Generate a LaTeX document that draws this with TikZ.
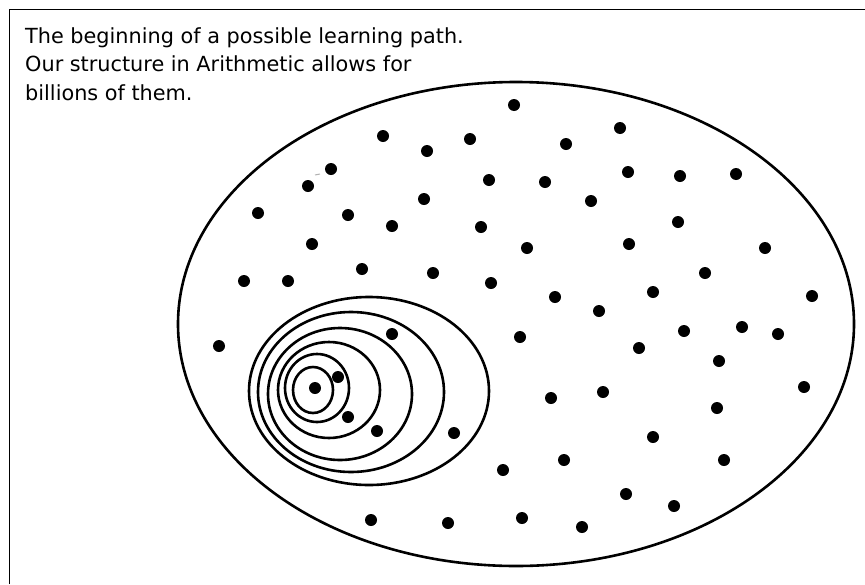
\documentclass[tikz,border=0pt]{standalone}
\usepackage{fontspec}
\setmainfont{DejaVu Sans}
\usetikzlibrary{positioning}

\begin{document}
\begin{tikzpicture}[
    x=1pt, y=-1pt,
    frameline/.style={line width=1.5pt, black},
    ring/.style={line width=2.6pt, black},
    dot/.style={fill=black},
    caption/.style={font=\fontsize{20.8}{28.5}\selectfont, align=left, inner sep=0pt, anchor=north west},
]
\useasboundingbox (0,0) rectangle (865,584);
\draw[frameline] (9.5,584) -- (9.5,9.5) -- (865,9.5);

\node[caption] (txt) at (25,27) {The beginning of a possible learning path.\\Our structure in Arithmetic allows for\\billions of them.};

% the whole field
\draw[ring] (516,324) ellipse [x radius=338, y radius=242];

% nested path
\draw[ring] (369,391) ellipse [x radius=120, y radius=94];
\draw[ring] (351,392) ellipse [x radius=93, y radius=80];
\draw[ring] (340,394) ellipse [x radius=72, y radius=66];
\draw[ring] (329,390) ellipse [x radius=51, y radius=48];
\draw[ring] (317,388) ellipse [x radius=32, y radius=34];
\draw[ring] (313,390) ellipse [x radius=20, y radius=23];

% topics
\foreach \px/\py in {514/105, 383/136, 427/151, 470/139, 566/144, 620/128, 331/169, 308/186,
    489/180, 545/182, 628/172, 680/176, 736/174, 258/213, 348/215, 392/226, 424/199, 481/227,
    591/201, 678/222, 312/244, 527/248, 629/244, 765/248, 244/281, 288/281, 362/269, 433/273,
    491/283, 555/297, 599/311, 653/292, 705/273, 812/296, 219/346, 392/334, 520/337, 639/348,
    684/331, 742/327, 778/334, 719/361, 338/377, 315/388, 348/417, 377/431, 454/433, 551/398,
    603/392, 804/387, 717/408, 653/437, 503/470, 564/460, 724/460, 626/494, 674/506, 371/520,
    448/523, 522/518, 582/527}
  \fill[dot] (\px,\py) circle [radius=6];

\draw[gray!60, line width=1pt] (315,175) -- (320,174);
\end{tikzpicture}
\end{document}
